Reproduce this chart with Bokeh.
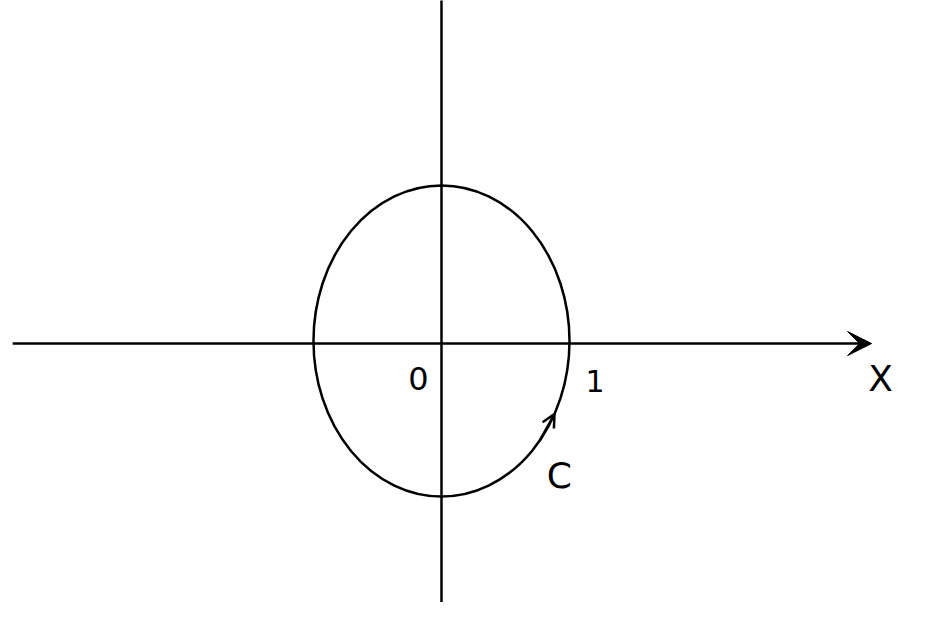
import numpy as np
from bokeh.plotting import figure
from bokeh.models import Range1d, Arrow, OpenHead, VeeHead
from bokeh.core.properties import value
from bokeh.embed import file_html
from bokeh.resources import INLINE

# ellipse C: semi-axes (x radius 1, y radius ~1.21), centred at origin
ell_a = 1.0
ell_b = 1.215
ell_cy = 0.02

label_text = ["0", "1", "X", "C"]
label_x = [-0.18, 1.2, 3.43, 0.92]
label_y = [-0.27, -0.29, -0.27, -1.03]
label_size = ["32px", "30px", "36px", "36px"]

p = figure(width=925, height=602, output_backend="svg", toolbar_location=None,
           x_range=Range1d(-3.445, 3.781), y_range=Range1d(-2.023, 2.68))
p.axis.visible = False
p.grid.visible = False
p.outline_line_color = None
p.min_border = 0

# vertical axis
p.segment(x0=[0], y0=[-2.1], x1=[0], y1=[2.7], line_color="black", line_width=2.5)

# horizontal axis with arrow
p.add_layout(Arrow(end=VeeHead(size=24, fill_color="black", line_color="black"),
                   x_start=-3.35, y_start=0, x_end=3.36, y_end=0,
                   line_color="black", line_width=2.5))

p.ellipse(x=0, y=ell_cy, width=2 * ell_a, height=2 * ell_b,
          fill_color=None, line_color="black", line_width=2.5)

# direction arrow on C
t0, t1 = np.radians(-40), np.radians(-28)
p.add_layout(Arrow(end=OpenHead(size=13, line_width=2.5, line_color="black"),
                   x_start=ell_a * np.cos(t0), y_start=ell_cy + ell_b * np.sin(t0),
                   x_end=ell_a * np.cos(t1), y_end=ell_cy + ell_b * np.sin(t1),
                   line_color="black", line_width=2.5))

for t, x, y, s in zip(label_text, label_x, label_y, label_size):
    p.text(x=[x], y=[y], text=[t], text_font=value("DejaVu Sans"),
           text_font_size=s, text_align="center", text_baseline="middle",
           text_color="black")

open("out.html", "w").write(file_html(p, INLINE))
